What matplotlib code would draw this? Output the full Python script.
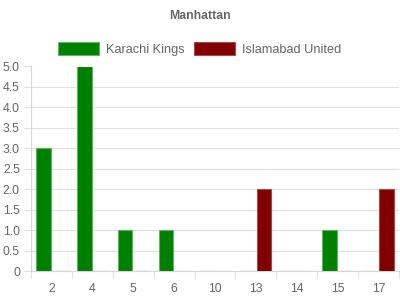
import matplotlib
matplotlib.use("Agg")
import matplotlib.pyplot as plt
import numpy as np

plt.rcParams["font.family"] = ["Liberation Sans", "DejaVu Sans"]

OVERS = ["2", "4", "5", "6", "10", "13", "14", "15", "17"]
KARACHI = [3, 5, 1, 1, 0, 0, 0, 1, 0]
ISLAMABAD = [0, 0, 0, 0, 0, 2, 0, 0, 2]
TEAMS = ["Karachi Kings", "Islamabad United"]
Y_TICKS = [0, 0.5, 1.0, 1.5, 2.0, 2.5, 3.0, 3.5, 4.0, 4.5, 5.0]

TEXT = "#666666"
GRID = "#e1e1e1"
GREEN, GREEN_EDGE = "#008000", "#5cb85c"
RED, RED_EDGE = "#800000", "#a84a4a"

fig = plt.figure(figsize=(4, 3), dpi=100)
fig.patch.set_facecolor("white")
ax = fig.add_axes([31 / 400, 29 / 300, 368 / 400, 204.5 / 300])

x = np.arange(len(OVERS))
off, w = 0.2, 0.36
b1 = ax.bar(x - off, KARACHI, w, color=GREEN, edgecolor=GREEN_EDGE, lw=0.8, label=TEAMS[0], zorder=3)
b2 = ax.bar(x + off, ISLAMABAD, w, color=RED, edgecolor=RED_EDGE, lw=0.8, label=TEAMS[1], zorder=3)

ax.set_xlim(-0.5, len(OVERS) - 0.5)
ax.set_ylim(0, 5)
ax.set_xticks(x)
ax.set_xticklabels(OVERS)
ax.set_xticks(np.arange(len(OVERS) + 1) - 0.5, minor=True)
ax.tick_params(axis="x", which="major", length=0, pad=9, labelsize=8.8, labelcolor=TEXT)
ax.tick_params(axis="x", which="minor", length=5, width=0.8, color=GRID, direction="out")

ax.set_yticks(Y_TICKS)
ax.set_yticklabels(["0" if v == 0 else f"{v:.1f}" for v in Y_TICKS])
ax.tick_params(axis="y", length=5, width=0.8, color=GRID, pad=3, labelsize=8.8, labelcolor=TEXT)
ax.grid(axis="y", color=GRID, lw=0.8, zorder=0)

for s in ("top", "right"):
    ax.spines[s].set_visible(False)
for s in ("left", "bottom"):
    ax.spines[s].set_color("#d6d6d6")
    ax.spines[s].set_linewidth(0.8)

fig.text(0.5, 1 - 16 / 300, "Manhattan", ha="center", va="center",
         fontsize=8.8, fontweight="bold", color=TEXT)
fig.legend(handles=[b1, b2], loc="center", bbox_to_anchor=(0.5, 1 - 49 / 300), ncol=2,
           frameon=False, fontsize=9.2, labelcolor=TEXT, handlelength=3.2, handleheight=1.1,
           handletextpad=0.55, columnspacing=0.75)

fig.savefig("out.png", dpi=100)
